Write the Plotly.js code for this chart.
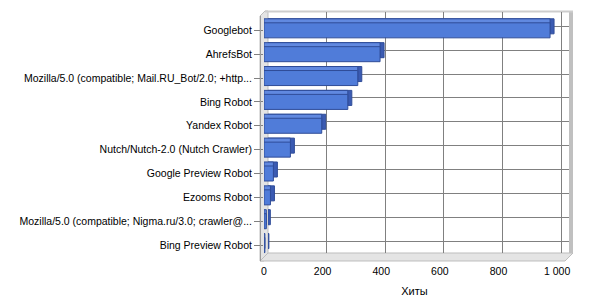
<!DOCTYPE html>
<html><head><meta charset="utf-8">
<script src="https://cdn.plot.ly/plotly-3.0.1.min.js"></script>
<style>html,body{margin:0;padding:0;background:#fff}#chart{width:600px;height:300px}</style>
</head><body><div id="chart"></div>
<script>
const categories = [
  "Googlebot",
  "AhrefsBot",
  "Mozilla/5.0 (compatible; Mail.RU_Bot/2.0; +http...",
  "Bing Robot",
  "Yandex Robot",
  "Nutch/Nutch-2.0 (Nutch Crawler)",
  "Google Preview Robot",
  "Ezooms Robot",
  "Mozilla/5.0 (compatible; Nigma.ru/3.0; crawler@...",
  "Bing Preview Robot"
];
const hits = [976, 396, 320, 286, 197, 90, 32, 22, 8, 3];
const xTicks = [0, 200, 400, 600, 800, 1000];
const xTitle = "Хиты";

// layout geometry (pixels)
const L = 264, R = 569, T = 12, B = 257, D = 4;
const PW = R - L, PH = B - T;
const px = v => (v - L) / PW;
const py = v => (B - v) / PH;
function path(pts){ return pts.map((p,i)=>(i?'L':'M')+px(p[0]).toFixed(4)+','+py(p[1]).toFixed(4)).join(' ')+' Z'; }

const xMax = 1027, yRange = [9.5, -0.6];
const barW = 0.63;
const unitPx = (PH - D) / (yRange[0] - yRange[1]);
const font = {family: "Liberation Sans, Arial, sans-serif", size: 10.5, color: "#000"};
const edge = {color: '#2F4C98', width: 1};

const traces = [
  { // side face (depth) of the 3D bars
    type: 'bar', orientation: 'h', x: hits, y: categories, xaxis: 'x', yaxis: 'y',
    width: barW, marker: {color: '#3B5BB2', line: edge},
    hoverinfo: 'skip', showlegend: false
  },
  { // top face of the 3D bars
    type: 'bar', orientation: 'h', x: hits, y: categories, xaxis: 'x2', yaxis: 'y2',
    width: barW, offset: -barW / 2 - D / unitPx,
    marker: {color: '#6189E0', line: edge},
    hoverinfo: 'skip', showlegend: false
  },
  { // front faces
    type: 'bar', orientation: 'h', x: hits, y: categories, xaxis: 'x2', yaxis: 'y2',
    width: barW, offset: -barW / 2,
    marker: {color: '#507CD9', line: edge},
    showlegend: false
  }
];

const layout = {
  width: 600, height: 300,
  margin: {l: L, r: 600 - R, t: T, b: 300 - B, pad: 0},
  paper_bgcolor: '#fff', plot_bgcolor: 'rgba(0,0,0,0)',
  font: font,
  barmode: 'overlay',
  xaxis: {domain: [D / PW, 1], range: [0, xMax], tickvals: xTicks, showticklabels: false,
          showgrid: true, gridcolor: '#808080', gridwidth: 1, zeroline: false, showline: false, ticks: ''},
  yaxis: {domain: [D / PH, 1], range: yRange, type: 'category', anchor: 'x', showticklabels: false,
          showgrid: true, gridcolor: '#808080', gridwidth: 1, zeroline: false, showline: false, ticks: ''},
  xaxis2: {domain: [0, (PW - D) / PW], range: [0, xMax], tickvals: xTicks, anchor: 'y2',
           showgrid: false, zeroline: false, showline: false, ticks: '', ticklabelstandoff: 6,
           separatethousands: true, tickfont: font,
           title: {text: xTitle, font: {family: font.family, size: 11, color: '#000'}, standoff: 11}},
  yaxis2: {domain: [0, (PH - D) / PH], range: yRange, type: 'category', anchor: 'x2',
           showgrid: false, zeroline: false, showline: false, ticks: 'outside', ticklen: 9,
           tickcolor: '#808080', tickwidth: 1, tickfont: font},
  separators: ', ',
  shapes: [
    {type: 'path', xref: 'paper', yref: 'paper', layer: 'below',
     path: path([[260,261],[260,16],[265,11],[268,11],[268,253],[264,257],[264,261]]),
     fillcolor: '#E4E4E4', line: {color: '#BDBDBD', width: 1}},
    {type: 'path', xref: 'paper', yref: 'paper', layer: 'below',
     path: path([[260,261],[268,253],[573,253],[565,261]]),
     fillcolor: '#E4E4E4', line: {color: '#BDBDBD', width: 1}},
    {type: 'rect', xref: 'paper', yref: 'paper', layer: 'below',
     x0: px(569), x1: px(573), y0: py(253), y1: py(11), fillcolor: '#C0C0C0', line: {width: 0}},
    {type: 'line', xref: 'paper', yref: 'paper', layer: 'below',
     x0: px(265), x1: px(573), y0: py(11.5), y1: py(11.5), line: {color: '#CDCDCD', width: 2}},
    {type: 'line', xref: 'paper', yref: 'paper', layer: 'above',
     x0: px(260.5), x1: px(260.5), y0: py(16), y1: py(261), line: {color: '#9A9A9A', width: 1}}
  ]
};

Plotly.newPlot('chart', traces, layout, {displayModeBar: false, staticPlot: true});
</script>
</body></html>
